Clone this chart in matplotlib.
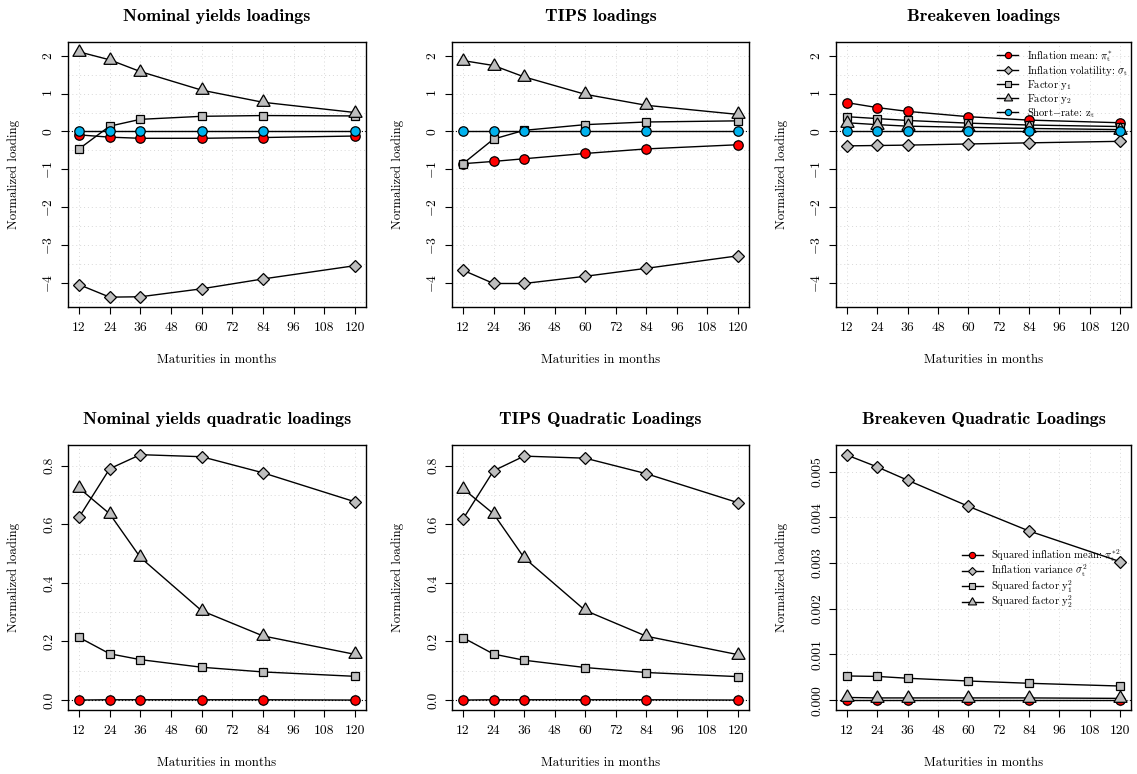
import matplotlib
matplotlib.use("Agg")
import matplotlib.pyplot as plt
from matplotlib.lines import Line2D
import numpy as np

plt.rcParams['font.family'] = 'cmr10'
plt.rcParams['mathtext.fontset'] = 'cm'
plt.rcParams['axes.formatter.use_mathtext'] = True
plt.rcParams['axes.unicode_minus'] = True

# maturities (months)
maturities = [12, 24, 36, 60, 84, 120]
xticks = [12, 24, 36, 48, 60, 72, 84, 96, 108, 120]

# linear loadings
nom_pi = [-0.09, -0.15, -0.18, -0.18, -0.16, -0.12]
nom_sigma = [-4.04, -4.37, -4.36, -4.15, -3.89, -3.54]
nom_y1 = [-0.46, 0.14, 0.32, 0.40, 0.42, 0.41]
nom_y2 = [2.10, 1.89, 1.58, 1.09, 0.77, 0.50]
nom_z = [0.0, 0.0, 0.0, 0.0, 0.0, 0.0]

tips_pi = [-0.85, -0.79, -0.72, -0.58, -0.46, -0.35]
tips_sigma = [-3.66, -4.01, -4.01, -3.82, -3.61, -3.28]
tips_y1 = [-0.85, -0.20, 0.03, 0.18, 0.25, 0.28]
tips_y2 = [1.87, 1.74, 1.44, 0.98, 0.69, 0.45]
tips_z = [0.0, 0.0, 0.0, 0.0, 0.0, 0.0]

be_pi = [0.76, 0.63, 0.53, 0.39, 0.30, 0.23]
be_sigma = [-0.38, -0.37, -0.36, -0.33, -0.30, -0.26]
be_y1 = [0.39, 0.34, 0.29, 0.22, 0.17, 0.13]
be_y2 = [0.23, 0.18, 0.14, 0.11, 0.08, 0.05]
be_z = [0.0, 0.0, 0.0, 0.0, 0.0, 0.0]

# quadratic loadings
nq_pi = [0.0, 0.001, 0.001, 0.001, 0.001, 0.0]
nq_sigma = [0.624, 0.790, 0.838, 0.831, 0.776, 0.677]
nq_y1 = [0.214, 0.158, 0.138, 0.112, 0.096, 0.081]
nq_y2 = [0.724, 0.636, 0.487, 0.305, 0.219, 0.156]

tq_pi = [0.0, 0.001, 0.001, 0.001, 0.001, 0.0]
tq_sigma = [0.618, 0.783, 0.833, 0.826, 0.773, 0.674]
tq_y1 = [0.213, 0.157, 0.136, 0.111, 0.094, 0.080]
tq_y2 = [0.722, 0.636, 0.486, 0.306, 0.218, 0.155]

bq_pi = [0.0, 0.0, 0.0, 0.0, 0.0, 0.0]
bq_sigma = [0.00536, 0.00510, 0.00481, 0.00424, 0.00370, 0.00303]
bq_y1 = [0.00053, 0.00052, 0.00048, 0.00042, 0.00037, 0.00031]
bq_y2 = [0.00006, 0.00005, 0.00005, 0.00005, 0.00005, 0.00004]

lin_labels = [r'Inflation mean: $\pi_{\mathrm{t}}^{*}$',
              r'Inflation volatility: $\sigma_{\mathrm{t}}$',
              r'Factor $\mathrm{y}_1$',
              r'Factor $\mathrm{y}_2$',
              r'Short$-$rate: $\mathrm{z}_{\mathrm{t}}$']
quad_labels = [r'Squared inflation mean: $\pi_{\mathrm{t}}^{*2}$',
               r'Inflation variance $\sigma_{\mathrm{t}}^2$',
               r'Squared factor $\mathrm{y}_1^2$',
               r'Squared factor $\mathrm{y}_2^2$']

RED = '#FF0000'
BLUE = '#00B2EE'
GREY = '#BEBEBE'
TRI = (3, 0, 0)
styles = [('o', RED, 6.8), ('D', GREY, 6.5), ('s', GREY, 6.0), (TRI, GREY, 11.0), ('o', BLUE, 6.8)]

W, H = 1137, 774
fig = plt.figure(figsize=(W / 100, H / 100), dpi=100)


def panel(box, title, series, ylim, yticks, ygrid, yfmt):
    l, r, t, b = box
    ax = fig.add_axes([l / W, 1 - b / H, (r - l) / W, (b - t) / H])
    ax.set_xlim(7.68, 124.32)
    ax.set_ylim(*ylim)
    for g in xticks:
        ax.axvline(g, color='#D8D8D8', ls=(0, (1, 3)), lw=0.7, zorder=0)
    for g in ygrid:
        ax.axhline(g, color='#D8D8D8', ls=(0, (1, 3)), lw=0.7, zorder=0)
    ax.axhline(0, color='black', ls=(0, (1, 2)), lw=0.8, zorder=1)
    for i, vals in enumerate(series):
        m, c, ms = styles[i]
        ax.plot(maturities, vals, color='black', lw=1.0, marker=m, ms=ms,
                mfc=c, mec='black', mew=0.9, zorder=3 + i)
    ax.set_xticks(xticks)
    ax.set_xticklabels([str(v) for v in xticks])
    ax.set_yticks(yticks)
    ax.set_yticklabels([yfmt(v) for v in yticks], rotation=90, va='center')
    ax.tick_params(direction='out', length=5, width=0.8, labelsize=9.8)
    ax.tick_params(axis='x', pad=6)
    ax.tick_params(axis='y', pad=4)
    for s in ax.spines.values():
        s.set_linewidth(1.0)
    ax.set_title(title, fontfamily='cmb10', fontsize=13, pad=15)
    ax.set_xlabel('Maturities in months', fontsize=9.3)
    ax.set_ylabel('Normalized loading', fontsize=9.3)
    ax.xaxis.set_label_coords(0.5, -47 / (b - t))
    ax.yaxis.set_label_coords(-48 / (r - l), 0.5)
    return ax


def fmt_int(v):
    return r'$%d$' % v if v >= 0 else r'$-%d$' % (-v)


lin_ylim = (-4.63, 2.36)
lin_yt = [-4, -3, -2, -1, 0, 1, 2]
lin_grid = np.arange(-4.5, 2.01, 0.5)
q_ylim = (-0.034, 0.871)
q_yt = [0.0, 0.2, 0.4, 0.6, 0.8]
q_grid = np.arange(0.0, 0.81, 0.1)

panel((68, 366, 42, 307), 'Nominal yields loadings',
      [nom_pi, nom_sigma, nom_y1, nom_y2, nom_z], lin_ylim, lin_yt, lin_grid, fmt_int)
panel((452, 749, 42, 307), 'TIPS loadings',
      [tips_pi, tips_sigma, tips_y1, tips_y2, tips_z], lin_ylim, lin_yt, lin_grid, fmt_int)
ax3 = panel((836, 1131, 42, 307), 'Breakeven loadings',
            [be_pi, be_sigma, be_y1, be_y2, be_z], lin_ylim, lin_yt, lin_grid, fmt_int)

panel((68, 366, 445, 710), 'Nominal yields quadratic loadings',
      [nq_pi, nq_sigma, nq_y1, nq_y2], q_ylim, q_yt, q_grid, lambda v: '%.1f' % v)
panel((452, 749, 445, 710), 'TIPS Quadratic Loadings',
      [tq_pi, tq_sigma, tq_y1, tq_y2], q_ylim, q_yt, q_grid, lambda v: '%.1f' % v)
ax6 = panel((836, 1131, 445, 710), 'Breakeven Quadratic Loadings',
            [bq_pi, bq_sigma, bq_y1, bq_y2], (-0.000214, 0.00558),
            [0.0, 0.001, 0.002, 0.003, 0.004, 0.005], np.arange(0.0, 0.0051, 0.001),
            lambda v: '%.3f' % v)

leg_ms = [4.5, 4.5, 4.5, 7.0, 4.5]


def handles(n):
    hs = []
    for i in range(n):
        m, c, ms = styles[i]
        hs.append(Line2D([], [], color='black', lw=1.0, marker=m, ms=leg_ms[i],
                         mfc=c, mec='black', mew=0.8))
    return hs


lg = ax3.legend(handles(5), lin_labels, loc='upper left', bbox_to_anchor=(0.535, 0.985),
                frameon=False, fontsize=7.6, handlelength=2.0, handletextpad=0.8,
                labelspacing=0.0, borderpad=0.3, borderaxespad=0.0)
lg.set_zorder(2)
lg2 = ax6.legend(handles(4), quad_labels, loc='upper left', bbox_to_anchor=(0.415, 0.625),
                 frameon=False, fontsize=7.6, handlelength=2.0, handletextpad=0.8,
                 labelspacing=-0.1, borderpad=0.3, borderaxespad=0.0)
lg2.set_zorder(2)

fig.savefig('out.png', dpi=100)
